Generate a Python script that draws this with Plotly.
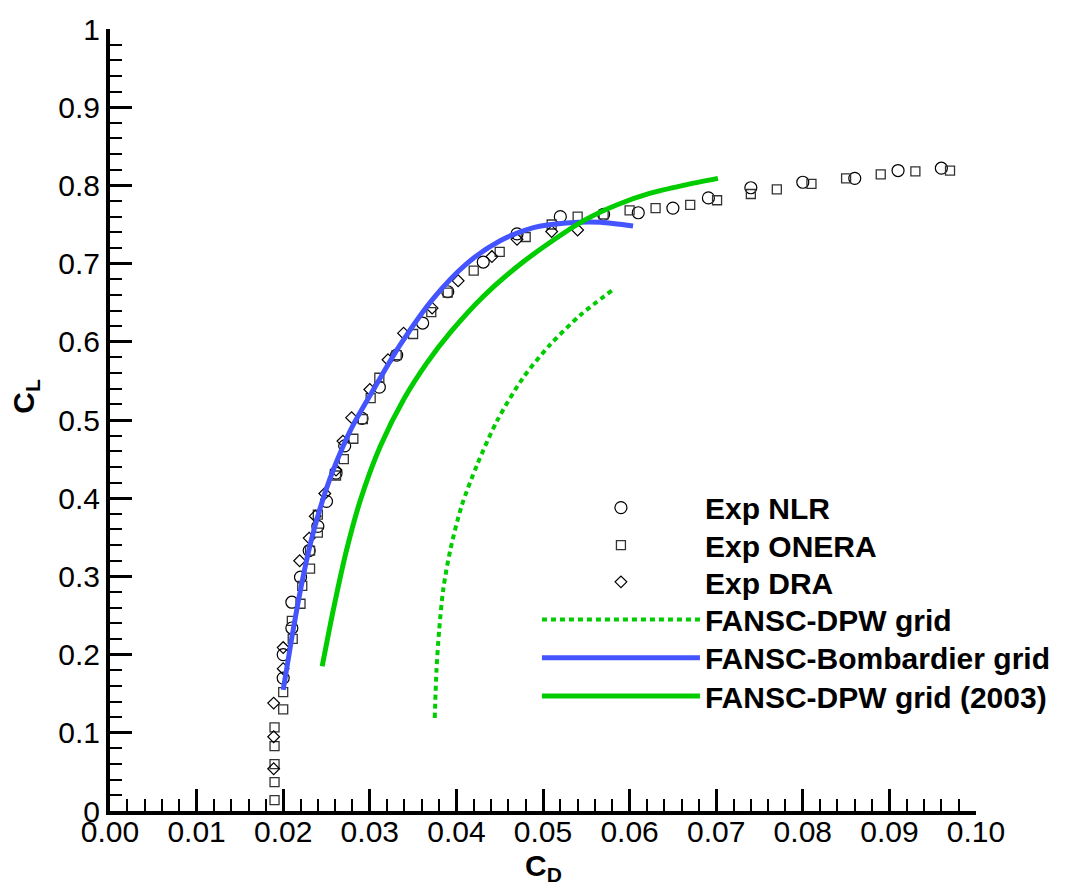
import plotly.graph_objects as go

# Experimental drag polars (C_D, C_L)
nlr_cd = [0.0200, 0.0200, 0.0210, 0.0210, 0.0220, 0.0230, 0.0240, 0.0250, 0.0261,
          0.0271, 0.0291, 0.0311, 0.0331, 0.0361, 0.0390, 0.0431, 0.0470, 0.0520,
          0.0570, 0.0610, 0.0650, 0.0691, 0.0740, 0.0800, 0.0860, 0.0910, 0.0960]
nlr_cl = [0.170, 0.200, 0.234, 0.267, 0.299, 0.333, 0.364, 0.396, 0.432,
          0.467, 0.502, 0.542, 0.583, 0.624, 0.664, 0.702, 0.738, 0.760,
          0.763, 0.765, 0.771, 0.784, 0.797, 0.804, 0.809, 0.819, 0.822]

onera_cd = [0.0190, 0.0190, 0.0190, 0.0190, 0.0190, 0.0200, 0.0200, 0.0211, 0.0210,
            0.0220, 0.0222, 0.0231, 0.0231, 0.0240, 0.0240, 0.0261, 0.0270, 0.0281,
            0.0292, 0.0301, 0.0311, 0.0331, 0.0350, 0.0371, 0.0390, 0.0420, 0.0450,
            0.0480, 0.0510, 0.0540, 0.0570, 0.0600, 0.0630, 0.0670, 0.0701, 0.0740,
            0.0770, 0.0810, 0.0850, 0.0890, 0.0930, 0.0970]
onera_cl = [0.014, 0.037, 0.060, 0.083, 0.107, 0.130, 0.152, 0.220, 0.243,
            0.265, 0.288, 0.310, 0.333, 0.356, 0.379, 0.429, 0.450, 0.476,
            0.501, 0.528, 0.554, 0.583, 0.610, 0.638, 0.663, 0.691, 0.715,
            0.734, 0.750, 0.760, 0.763, 0.768, 0.771, 0.775, 0.781, 0.789,
            0.795, 0.802, 0.809, 0.814, 0.818, 0.819]

dra_cd = [0.0189, 0.0189, 0.0189, 0.0200, 0.0200, 0.0219, 0.0230, 0.0237, 0.0248,
          0.0261, 0.0269, 0.0279, 0.0300, 0.0321, 0.0339, 0.0372, 0.0402, 0.0441,
          0.0470, 0.0510, 0.0540]
dra_cl = [0.054, 0.095, 0.138, 0.182, 0.209, 0.320, 0.349, 0.377, 0.406,
          0.436, 0.473, 0.503, 0.539, 0.577, 0.611, 0.643, 0.678, 0.709,
          0.731, 0.741, 0.743]

# FANSC computations
dpw_cd = [0.0375, 0.0377, 0.0380, 0.0385, 0.0393, 0.0406, 0.0424, 0.0447,
          0.0477, 0.0508, 0.0543, 0.0580]
dpw_cl = [0.119, 0.180, 0.230, 0.285, 0.334, 0.390, 0.443, 0.499,
          0.554, 0.596, 0.634, 0.666]

bomb_cd = [0.0200, 0.0210, 0.0220, 0.0231, 0.0242, 0.0254, 0.0269, 0.0281, 0.0308,
           0.0335, 0.0373, 0.0412, 0.0450, 0.0489, 0.0527, 0.0566, 0.0604]
bomb_cl = [0.155, 0.222, 0.283, 0.340, 0.385, 0.425, 0.466, 0.494, 0.546,
           0.596, 0.655, 0.700, 0.729, 0.746, 0.752, 0.753, 0.748]

dpw03_cd = [0.0245, 0.0258, 0.0273, 0.0289, 0.0312, 0.0340, 0.0366, 0.0393,
            0.0431, 0.0470, 0.0508, 0.0547, 0.0585, 0.0624, 0.0662, 0.0702]
dpw03_cl = [0.185, 0.258, 0.333, 0.397, 0.466, 0.528, 0.573, 0.612,
            0.658, 0.696, 0.727, 0.755, 0.775, 0.790, 0.800, 0.809]

x_ticks = [0.00, 0.01, 0.02, 0.03, 0.04, 0.05, 0.06, 0.07, 0.08, 0.09, 0.10]
y_ticks = [0, 0.1, 0.2, 0.3, 0.4, 0.5, 0.6, 0.7, 0.8, 0.9, 1]

GREEN = "#00cc00"
BLUE = "#4455ff"
FONT = "Liberation Sans, Arial, sans-serif"

fig = go.Figure()

fig.add_trace(go.Scatter(
    x=nlr_cd, y=nlr_cl, mode="markers", name="Exp NLR", legend="legend",
    marker=dict(symbol="circle-open", size=12, color="black", line=dict(width=1.2)),
))
fig.add_trace(go.Scatter(
    x=onera_cd, y=onera_cl, mode="markers", name="Exp ONERA", legend="legend2",
    marker=dict(symbol="square-open", size=9, color="#333333", line=dict(width=1.3)),
))
fig.add_trace(go.Scatter(
    x=dra_cd, y=dra_cl, mode="markers", name="Exp DRA", legend="legend3",
    marker=dict(symbol="diamond-open", size=9, color="black", line=dict(width=1.2)),
))
fig.add_trace(go.Scatter(
    x=dpw_cd, y=dpw_cl, mode="lines", name="FANSC-DPW grid", legend="legend4",
    line=dict(color=GREEN, width=4, dash="5px,4px", shape="spline", smoothing=0.8),
))
fig.add_trace(go.Scatter(
    x=bomb_cd, y=bomb_cl, mode="lines", name="FANSC-Bombardier grid", legend="legend5",
    line=dict(color=BLUE, width=5, shape="spline", smoothing=0.8),
))
fig.add_trace(go.Scatter(
    x=dpw03_cd, y=dpw03_cl, mode="lines", name="FANSC-DPW grid (2003)", legend="legend6",
    line=dict(color=GREEN, width=5, shape="spline", smoothing=0.8),
))

axis_common = dict(
    showgrid=False, zeroline=False, showline=True, linecolor="black", linewidth=4,
    ticks="inside", ticklen=22, tickwidth=3, tickcolor="black",
    tickfont=dict(family=FONT, size=30, color="black"),
)

fig.update_xaxes(
    range=[0, 0.10], tickvals=x_ticks, tickformat=".2f", ticklabelstandoff=-9,
    minor=dict(ticks="inside", ticklen=12, tickwidth=1.5, tickcolor="black", dtick=0.002),
    **axis_common,
)
fig.update_yaxes(
    range=[0, 1], tickvals=y_ticks,
    minor=dict(ticks="inside", ticklen=12, tickwidth=1.5, tickcolor="black", dtick=0.02),
    **axis_common,
)

fig.add_annotation(
    text="C<sub>D</sub>", xref="paper", yref="paper", x=0.5, y=-0.046,
    xanchor="center", yanchor="top", showarrow=False,
    font=dict(family=FONT, size=30, color="black", weight="bold"),
)
fig.add_annotation(
    text="C<sub>L</sub>", xref="paper", yref="paper", x=-0.098, y=0.53,
    xanchor="center", yanchor="middle", showarrow=False, textangle=-90,
    font=dict(family=FONT, size=30, color="black", weight="bold"),
)

# One legend box per entry so the rows sit on a fixed pitch
legend_rows = [0.388, 0.340, 0.293, 0.245, 0.196, 0.147]
legend_style = dict(
    x=0.493, xanchor="left", yanchor="middle",
    bgcolor="rgba(0,0,0,0)", borderwidth=0, itemwidth=158,
    font=dict(family=FONT, size=30, color="black", weight="bold"),
)
legends = {}
for i, row_y in enumerate(legend_rows):
    key = "legend" if i == 0 else f"legend{i + 1}"
    legends[key] = dict(y=row_y, **legend_style)

fig.update_layout(
    width=1070, height=888,
    margin=dict(l=110, r=94, t=21, b=77),
    plot_bgcolor="white", paper_bgcolor="white",
    showlegend=True,
    **legends,
)

fig.write_html("out.html")
